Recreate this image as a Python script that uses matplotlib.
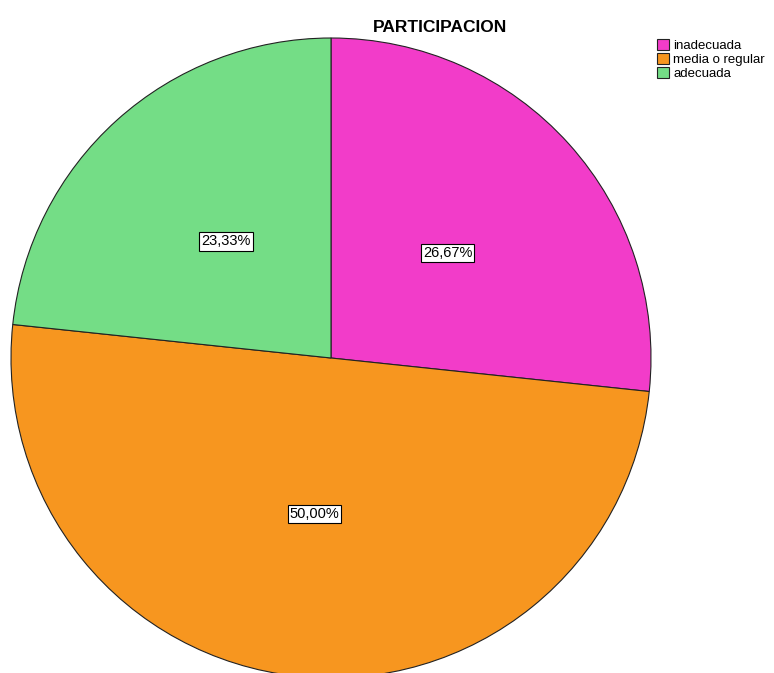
import matplotlib.pyplot as plt

plt.rcParams['font.family'] = ['Liberation Sans', 'DejaVu Sans']

# datos del grafico de sectores
categorias = ['inadecuada', 'media o regular', 'adecuada']
porcentajes = [26.67, 50.00, 23.33]
colores = ['#f23cc9', '#f7961f', '#74dd86']

fig = plt.figure(figsize=(7.74, 6.73), dpi=100)
fig.patch.set_facecolor('white')

# ejes del pastel, centro aprox. (331, 358) px y radio 320 px
ax = fig.add_axes([11 / 774, -5 / 673, 640 / 774, 640 / 673])
wedges, textos, autotextos = ax.pie(
    porcentajes, colors=colores, startangle=90, counterclock=False,
    radius=1, autopct=lambda p: ('%.2f%%' % p).replace('.', ','),
    pctdistance=0.49,
    wedgeprops={'edgecolor': '#222222', 'linewidth': 0.8},
    textprops={'fontsize': 10.5, 'color': 'black'})
for t in autotextos:
    t.set_bbox(dict(facecolor='white', edgecolor='black', linewidth=0.8, pad=1.5))
for w in wedges:
    w.set_clip_on(False)
ax.set_xlim(-1, 1)
ax.set_ylim(-1, 1)
ax.set_aspect('equal')
ax.axis('off')

# titulo
fig.text(440 / 774, 1 - 27 / 673, 'PARTICIPACION', ha='center', va='center',
         fontsize=12.5, fontweight='bold')

# leyenda
leg = fig.legend(wedges, categorias, loc='upper left',
                 bbox_to_anchor=(648 / 774, 1 - 30 / 673),
                 frameon=False, fontsize=9.5, handlelength=0.9, handleheight=0.9,
                 handletextpad=0.3, labelspacing=0.05, borderpad=0.2)

fig.savefig('out.png', dpi=100)
